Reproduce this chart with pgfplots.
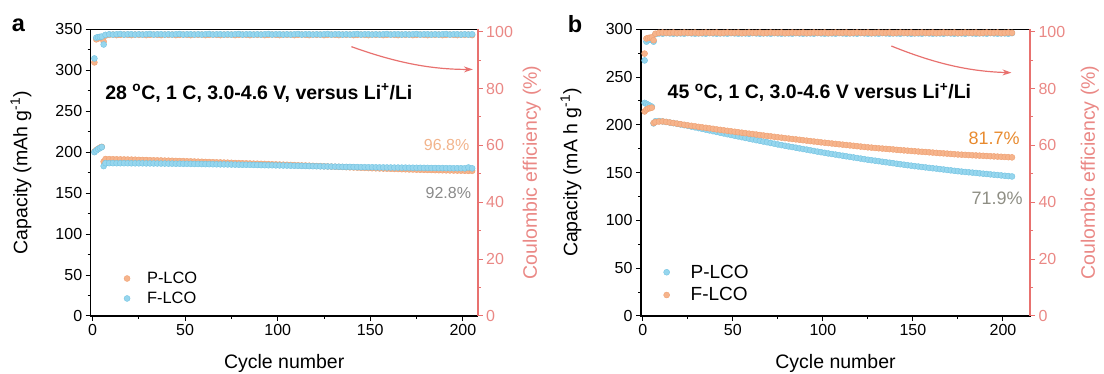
\documentclass[border=0pt]{standalone}
\usepackage{fontspec}
\setmainfont{Liberation Sans}
\usepackage{pgfplots}
\pgfplotsset{compat=1.18}
\usepackage{pgfplotstable}
\usetikzlibrary{arrows.meta}
\definecolor{cor}{HTML}{F6B48C}
\definecolor{corE}{HTML}{EFA173}
\definecolor{cbl}{HTML}{96D6EE}
\definecolor{cblE}{HTML}{74C4E2}
\definecolor{cred}{HTML}{E8716F}
\definecolor{credT}{HTML}{EA8885}
\definecolor{pctA}{HTML}{F2B48C}
\definecolor{pctB}{HTML}{E88A2E}
\definecolor{pctG}{HTML}{8A8A8A}
\definecolor{pctG2}{HTML}{8E8E84}

\pgfplotstableread{
c capP capF ceP ceF
1 200.5 200.0 89.2 90.6
2 202.5 202.0 97.3 97.9
3 204.0 203.8 97.6 98.1
4 205.5 205.0 97.8 98.2
5 206.5 206.2 97.9 98.3
6 188.5 183.0 96.5 95.5
7 191.6 186.6 98.6 98.9
9 191.5 186.6 98.9 99.1
11 191.4 186.6 99.0 99.0
13 191.3 186.5 98.8 99.1
15 191.2 186.5 98.9 99.2
17 191.1 186.5 99.0 99.0
19 191.0 186.5 98.9 99.1
21 190.9 186.4 98.8 99.1
23 190.8 186.4 99.0 99.0
25 190.6 186.4 98.9 99.1
27 190.5 186.4 99.0 99.0
29 190.4 186.3 98.8 99.1
31 190.2 186.3 98.9 99.2
33 190.1 186.2 99.0 99.0
35 190.0 186.2 98.9 99.1
37 189.9 186.1 98.8 99.1
39 189.7 186.1 99.0 99.0
41 189.6 186.0 98.9 99.1
43 189.5 186.0 99.0 99.0
45 189.3 185.9 98.8 99.1
47 189.2 185.9 98.9 99.2
49 189.1 185.8 99.0 99.0
51 188.9 185.8 98.9 99.1
53 188.8 185.7 98.8 99.1
55 188.6 185.6 99.0 99.0
57 188.4 185.6 98.9 99.1
59 188.3 185.5 99.0 99.0
61 188.1 185.4 98.8 99.1
63 188.0 185.4 98.9 99.2
65 187.8 185.3 99.0 99.0
67 187.6 185.2 98.9 99.1
69 187.5 185.1 98.8 99.1
71 187.3 185.1 99.0 99.0
73 187.2 185.0 98.9 99.1
75 187.0 184.9 99.0 99.0
77 186.8 184.8 98.8 99.1
79 186.7 184.7 98.9 99.2
81 186.5 184.6 99.0 99.0
83 186.4 184.6 98.9 99.1
85 186.2 184.5 98.8 99.1
87 186.0 184.4 99.0 99.0
89 185.9 184.3 98.9 99.1
91 185.7 184.2 99.0 99.0
93 185.6 184.1 98.8 99.1
95 185.4 184.0 98.9 99.2
97 185.2 184.0 99.0 99.0
99 185.1 183.9 98.9 99.1
101 184.9 183.8 98.8 99.1
103 184.7 183.7 99.0 99.0
105 184.6 183.6 98.9 99.1
107 184.4 183.5 99.0 99.0
109 184.2 183.4 98.8 99.1
111 184.0 183.3 98.9 99.2
113 183.8 183.2 99.0 99.0
115 183.7 183.1 98.9 99.1
117 183.5 183.0 98.8 99.1
119 183.3 182.9 99.0 99.0
121 183.1 182.8 98.9 99.1
123 183.0 182.7 99.0 99.0
125 182.8 182.6 98.8 99.1
127 182.6 182.5 98.9 99.2
129 182.4 182.4 99.0 99.0
131 182.2 182.3 98.9 99.1
133 182.1 182.2 98.8 99.1
135 181.9 182.1 99.0 99.0
137 181.7 182.0 98.9 99.1
139 181.5 182.0 99.0 99.0
141 181.3 181.9 98.8 99.1
143 181.1 181.8 98.9 99.2
145 180.9 181.7 99.0 99.0
147 180.8 181.7 98.9 99.1
149 180.6 181.6 98.8 99.1
151 180.4 181.6 99.0 99.0
153 180.3 181.5 98.9 99.1
155 180.1 181.4 99.0 99.0
157 180.0 181.4 98.8 99.1
159 179.8 181.3 98.9 99.2
161 179.7 181.3 99.0 99.0
163 179.5 181.2 98.9 99.1
165 179.4 181.2 98.8 99.1
167 179.2 181.1 99.0 99.0
169 179.1 181.1 98.9 99.1
171 178.9 181.0 99.0 99.0
173 178.8 181.0 98.8 99.1
175 178.6 180.9 98.9 99.2
177 178.5 180.9 99.0 99.0
179 178.4 180.8 98.9 99.1
181 178.3 180.8 98.8 99.1
183 178.2 180.7 99.0 99.0
185 178.1 180.7 98.9 99.1
187 178.0 180.6 99.0 99.0
189 177.9 180.6 98.8 99.1
191 177.8 180.5 98.9 99.2
193 177.7 180.5 99.0 99.0
195 177.6 180.4 98.9 99.1
197 177.5 180.4 98.8 99.1
199 177.4 180.4 99.0 99.0
201 177.3 180.3 98.9 99.1
203 177.2 181.3 99.0 99.0
205 177.2 180.3 98.8 99.1
}\tabA

\pgfplotstableread{
c capP capF ceP ceF
1 223.0 214.0 89.9 92.3
2 222.0 216.0 96.5 97.6
3 221.0 217.0 97.0 97.8
4 220.0 217.5 97.2 97.9
5 219.0 218.0 97.3 98.0
6 201.5 202.0 96.5 97.0
7 203.8 203.0 99.1 99.3
9 204.0 203.5 99.4 99.6
11 203.6 203.6 99.3 99.7
13 203.0 203.1 99.5 99.6
15 202.4 202.5 99.4 99.6
17 201.8 201.9 99.3 99.7
19 201.1 201.3 99.4 99.5
21 200.4 200.7 99.4 99.6
23 199.7 200.1 99.3 99.7
25 199.0 199.5 99.5 99.6
27 198.2 199.0 99.4 99.6
29 197.4 198.5 99.3 99.7
31 196.6 197.9 99.4 99.5
33 195.8 197.4 99.4 99.6
35 195.0 196.9 99.3 99.7
37 194.2 196.4 99.5 99.6
39 193.4 195.9 99.4 99.6
41 192.6 195.3 99.3 99.7
43 191.8 194.8 99.4 99.5
45 191.0 194.3 99.4 99.6
47 190.2 193.8 99.3 99.7
49 189.4 193.3 99.5 99.6
51 188.6 192.8 99.4 99.6
53 187.9 192.3 99.3 99.7
55 187.1 191.8 99.4 99.5
57 186.3 191.3 99.4 99.6
59 185.6 190.8 99.3 99.7
61 184.8 190.4 99.5 99.6
63 184.0 189.9 99.4 99.6
65 183.3 189.4 99.3 99.7
67 182.5 188.9 99.4 99.5
69 181.8 188.4 99.4 99.6
71 181.0 188.0 99.3 99.7
73 180.3 187.5 99.5 99.6
75 179.5 187.0 99.4 99.6
77 178.8 186.6 99.3 99.7
79 178.1 186.1 99.4 99.5
81 177.4 185.7 99.4 99.6
83 176.8 185.2 99.3 99.7
85 176.1 184.8 99.5 99.6
87 175.4 184.4 99.4 99.6
89 174.7 183.9 99.3 99.7
91 174.1 183.5 99.4 99.5
93 173.4 183.0 99.4 99.6
95 172.7 182.6 99.3 99.7
97 172.0 182.2 99.5 99.6
99 171.4 181.7 99.4 99.6
101 170.7 181.3 99.3 99.7
103 170.1 180.9 99.4 99.5
105 169.5 180.5 99.4 99.6
107 168.9 180.1 99.3 99.7
109 168.3 179.7 99.5 99.6
111 167.7 179.3 99.4 99.6
113 167.1 178.9 99.3 99.7
115 166.5 178.5 99.4 99.5
117 165.9 178.1 99.4 99.6
119 165.3 177.7 99.3 99.7
121 164.7 177.3 99.5 99.6
123 164.1 176.9 99.4 99.6
125 163.5 176.5 99.3 99.7
127 163.0 176.2 99.4 99.5
129 162.5 175.8 99.4 99.6
131 162.0 175.5 99.3 99.7
133 161.4 175.2 99.5 99.6
135 160.9 174.9 99.4 99.6
137 160.4 174.6 99.3 99.7
139 159.9 174.3 99.4 99.5
141 159.3 173.9 99.4 99.6
143 158.8 173.6 99.3 99.7
145 158.3 173.3 99.5 99.6
147 157.8 173.0 99.4 99.6
149 157.3 172.7 99.3 99.7
151 156.8 172.4 99.4 99.5
153 156.4 172.1 99.4 99.6
155 155.9 171.8 99.3 99.7
157 155.5 171.6 99.5 99.6
159 155.0 171.3 99.4 99.6
161 154.6 171.0 99.3 99.7
163 154.2 170.7 99.4 99.5
165 153.7 170.4 99.4 99.6
167 153.3 170.2 99.3 99.7
169 152.8 169.9 99.5 99.6
171 152.4 169.6 99.4 99.6
173 151.9 169.3 99.3 99.7
175 151.5 169.0 99.4 99.5
177 151.1 168.8 99.4 99.6
179 150.7 168.6 99.3 99.7
181 150.4 168.4 99.5 99.6
183 150.0 168.2 99.4 99.6
185 149.7 168.0 99.3 99.7
187 149.3 167.8 99.4 99.5
189 148.9 167.6 99.4 99.6
191 148.6 167.4 99.3 99.7
193 148.2 167.2 99.5 99.6
195 147.8 167.0 99.4 99.6
197 147.5 166.8 99.3 99.7
199 147.1 166.6 99.4 99.5
201 146.7 166.4 99.4 99.6
203 146.4 166.2 99.3 99.7
205 146.0 166.0 99.5 99.6
}\tabB

\pgfplotsset{
  base/.style={
    scale only axis, height=286.7pt, clip=false,
    tick align=outside,
    /pgf/number format/assume math mode=true,
    tick label style={font=\fontsize{16}{18}\selectfont},
    label style={font=\fontsize{19.5}{22}\selectfont},
    major tick length=5pt, minor tick length=3pt,
    every tick/.style={line width=1pt},
  },
  leftax/.style={
    base, axis line style={line width=1.3pt},
    xtick pos=left, ytick pos=left,
    minor x tick num=1, minor y tick num=1,
    xtick={0,50,...,200},
    xlabel={Cycle number},
    xlabel style={at={(axis description cs:0.5,-0.167)}, anchor=center},
    ylabel style={at={(axis description cs:-0.18,0.5)}, anchor=center},
    legend cell align=left,
  },
  rightax/.style={
    base, axis x line=none, axis y line*=right,
    ymin=0, ymax=100.85, ytick={0,20,...,100}, minor y tick num=1,
    y axis line style={cred, line width=1.6pt},
    ytick style={cred, line width=1pt},
    yticklabel style={text=credT},
    ylabel={Coulombic efficiency (\%)},
    ylabel style={text=credT, anchor=center},
  },
  orm/.style={only marks, mark=*, mark size=3pt, mark options={fill=cor, draw=corE, line width=0.4pt}},
  blm/.style={only marks, mark=*, mark size=3pt, mark options={fill=cbl, draw=cblE, line width=0.4pt}},
}

\begin{document}
\begin{tikzpicture}
\path[use as bounding box] (0,0) rectangle (1104pt,374pt);
\node[font=\bfseries\fontsize{23.5}{26}\selectfont] at (18.5pt,349pt) {a};
\node[font=\bfseries\fontsize{23.5}{26}\selectfont] at (575pt,350pt) {b};

% ---------------- panel a ----------------
\begin{axis}[leftax, width=387pt, at={(90.7pt,58pt)}, anchor=south west,
  xmin=-1, xmax=208, ymin=0, ymax=350, ytick={0,50,...,350},
  ylabel={Capacity (mAh g\textsuperscript{-1})},
  legend style={at={(axis description cs:0.078,0.168)}, anchor=north west, draw=none, fill=none,
    font=\fontsize{16.4}{20}\selectfont, row sep=3pt,
    /tikz/every odd column/.append style={column sep=15pt}},
]
\addplot[orm] table[x=c, y=capP] {\tabA};
\addlegendentry{P-LCO}
\addplot[blm] table[x=c, y=capF] {\tabA};
\addlegendentry{F-LCO}
\node[anchor=west, inner sep=0pt, font=\bfseries\fontsize{19.5}{22}\selectfont] at (axis cs:6.8,272) {28 \textsuperscript{o}C, 1 C, 3.0-4.6 V, versus Li\textsuperscript{+}/Li};
\node[anchor=east, inner sep=0pt, text=pctA, font=\fontsize{16}{18}\selectfont] at (axis cs:203.6,208.5) {96.8\%};
\node[anchor=east, inner sep=0pt, text=pctG, font=\fontsize{16}{18}\selectfont] at (axis cs:204.5,150) {92.8\%};
\draw[cred, line width=1.2pt, -{Stealth[length=9pt, width=6pt]}] (axis cs:139.8,328.8) .. controls (axis cs:163.2,309.8) and (axis cs:182,301) .. (axis cs:205.4,301);
\end{axis}
\begin{axis}[rightax, width=387pt, at={(90.7pt,58pt)}, anchor=south west,
  xmin=-1, xmax=208,
  ylabel style={at={(axis description cs:1.14,0.5)}},
]
\addplot[orm] table[x=c, y=ceP] {\tabA};
\addplot[blm] table[x=c, y=ceF] {\tabA};
\end{axis}

% ---------------- panel b ----------------
\begin{axis}[leftax, width=389pt, at={(641pt,58pt)}, anchor=south west,
  xmin=-1, xmax=215, ymin=0, ymax=300, ytick={0,50,...,300},
  ylabel={Capacity (mA h g\textsuperscript{-1})},
  legend style={at={(axis description cs:0.05,0.193)}, anchor=north west, draw=none, fill=none,
    font=\fontsize{19}{22}\selectfont, row sep=4pt,
    /tikz/every odd column/.append style={column sep=19pt}},
]
\addplot[blm] table[x=c, y=capP] {\tabB};
\addlegendentry{P-LCO}
\addplot[orm] table[x=c, y=capF] {\tabB};
\addlegendentry{F-LCO}
\node[anchor=west, inner sep=0pt, font=\bfseries\fontsize{19.5}{22}\selectfont] at (axis cs:13.7,234) {45 \textsuperscript{o}C, 1 C, 3.0-4.6 V versus Li\textsuperscript{+}/Li};
\node[anchor=east, inner sep=0pt, text=pctB, font=\fontsize{18}{20}\selectfont] at (axis cs:209.3,186.4) {81.7\%};
\node[anchor=east, inner sep=0pt, text=pctG2, font=\fontsize{18}{20}\selectfont] at (axis cs:211,123.5) {71.9\%};
\draw[cred, line width=1.2pt, -{Stealth[length=9pt, width=6pt]}] (axis cs:138,282.5) .. controls (axis cs:159.3,266.4) and (axis cs:178.7,256) .. (axis cs:204.7,254.6);
\end{axis}
\begin{axis}[rightax, width=389pt, at={(641pt,58pt)}, anchor=south west,
  xmin=-1, xmax=215,
  ylabel style={at={(axis description cs:1.154,0.5)}},
]
\addplot[blm] table[x=c, y=ceP] {\tabB};
\addplot[orm] table[x=c, y=ceF] {\tabB};
\end{axis}
\end{tikzpicture}
\end{document}
